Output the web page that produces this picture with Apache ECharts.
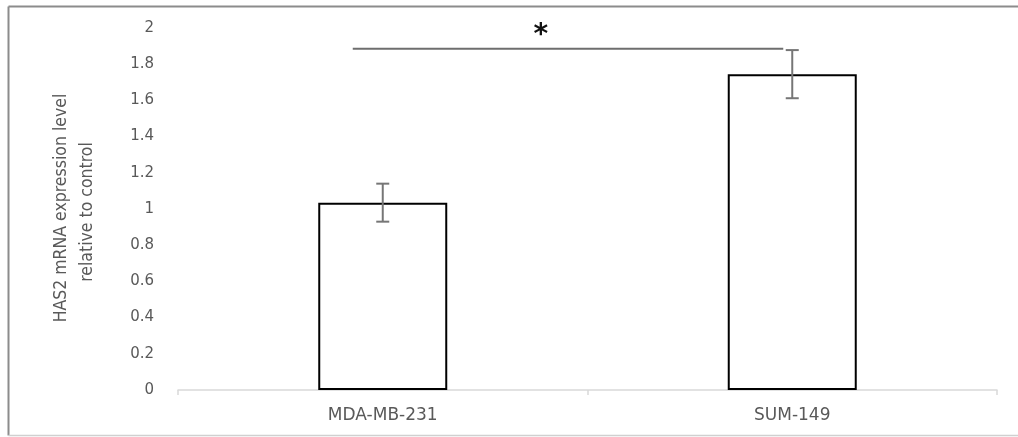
<!DOCTYPE html>
<html>
<head>
<meta charset="utf-8">
<script src="https://cdn.jsdelivr.net/npm/echarts@6/dist/echarts.min.js"></script>
<style>html,body{margin:0;padding:0;background:#fff}#c{width:1018px;height:437px}</style>
</head>
<body>
<div id="c"></div>
<script>
const categories = ['MDA-MB-231', 'SUM-149'];
const means = [1.035, 1.745];
const errors = [0.105, 0.133];
const yTicks = { min: 0, max: 2, interval: 0.2 };
const yTitleLines = ['HAS2 mRNA expression level', 'relative to control'];
const significance = { from: 0, to: 1, value: 1.885, label: '*' };

const chart = echarts.init(document.getElementById('c'));
const errData = categories.map((c, i) => [i, means[i] - errors[i], means[i] + errors[i]]);
const titleFont = '17.5px "Liberation Sans Narrow", "DejaVu Sans Condensed", "Liberation Sans"';

chart.setOption({
  animation: false,
  backgroundColor: '#fff',
  grid: { left: 178, right: 21, top: 28, bottom: 47 },
  xAxis: {
    type: 'category',
    data: categories,
    axisLine: { lineStyle: { color: '#d9d9d9', width: 1.5 } },
    axisTick: { show: true, length: 5, lineStyle: { color: '#d9d9d9', width: 1.5 } },
    axisLabel: { color: '#595959', fontFamily: 'DejaVu Sans', fontSize: 17, margin: 17 }
  },
  yAxis: {
    type: 'value',
    min: yTicks.min, max: yTicks.max, interval: yTicks.interval,
    axisLine: { show: false },
    axisTick: { show: false },
    splitLine: { show: false },
    axisLabel: { color: '#595959', fontFamily: 'DejaVu Sans', fontSize: 15, margin: 24 }
  },
  graphic: [
    { type: 'line', shape: { x1: 8.5, y1: 6.5, x2: 1018, y2: 6.5 }, style: { stroke: '#8c8c8c', lineWidth: 2 } },
    { type: 'line', shape: { x1: 8.5, y1: 6.5, x2: 8.5, y2: 435.5 }, style: { stroke: '#8c8c8c', lineWidth: 2 } },
    { type: 'line', shape: { x1: 8.5, y1: 435.5, x2: 1018, y2: 435.5 }, style: { stroke: '#d0d0d0', lineWidth: 1.5 } },
    { type: 'text', x: 61, y: 208, rotation: Math.PI / 2, style: {
        text: yTitleLines[0], fill: '#595959', font: titleFont,
        textAlign: 'center', textVerticalAlign: 'middle' } },
    { type: 'text', x: 87, y: 212, rotation: Math.PI / 2, style: {
        text: yTitleLines[1], fill: '#595959', font: titleFont,
        textAlign: 'center', textVerticalAlign: 'middle' } }
  ],
  series: [
    {
      type: 'bar',
      data: means,
      barWidth: '31.5%',
      itemStyle: { color: '#ffffff', borderColor: '#000000', borderWidth: 2 },
      z: 2
    },
    {
      type: 'custom',
      data: errData,
      z: 3,
      renderItem: function (params, api) {
        const x = api.coord([api.value(0), 0])[0];
        const lo = api.coord([api.value(0), api.value(1)])[1];
        const hi = api.coord([api.value(0), api.value(2)])[1];
        const cap = 6.5;
        const st = { stroke: '#767676', lineWidth: 2 };
        return { type: 'group', children: [
          { type: 'line', shape: { x1: x, y1: lo, x2: x, y2: hi }, style: st },
          { type: 'line', shape: { x1: x - cap, y1: lo, x2: x + cap, y2: lo }, style: st },
          { type: 'line', shape: { x1: x - cap, y1: hi, x2: x + cap, y2: hi }, style: st }
        ]};
      }
    },
    {
      type: 'custom',
      data: [[significance.from, significance.to, significance.value]],
      z: 4,
      renderItem: function (params, api) {
        const p1 = api.coord([api.value(0), api.value(2)]);
        const p2 = api.coord([api.value(1), api.value(2)]);
        const x1 = p1[0] - 30, x2 = p2[0] - 9;
        return { type: 'group', children: [
          { type: 'line', shape: { x1: x1, y1: p1[1], x2: x2, y2: p1[1] }, style: { stroke: '#6e6e6e', lineWidth: 2 } },
          { type: 'text', x: x1 + (x2 - x1) * 0.437, y: p1[1] - 13, style: {
              text: significance.label, fill: '#111', font: 'bold 28px "DejaVu Sans"',
              textAlign: 'center', textVerticalAlign: 'middle' } }
        ]};
      }
    }
  ]
});
</script>
</body>
</html>
